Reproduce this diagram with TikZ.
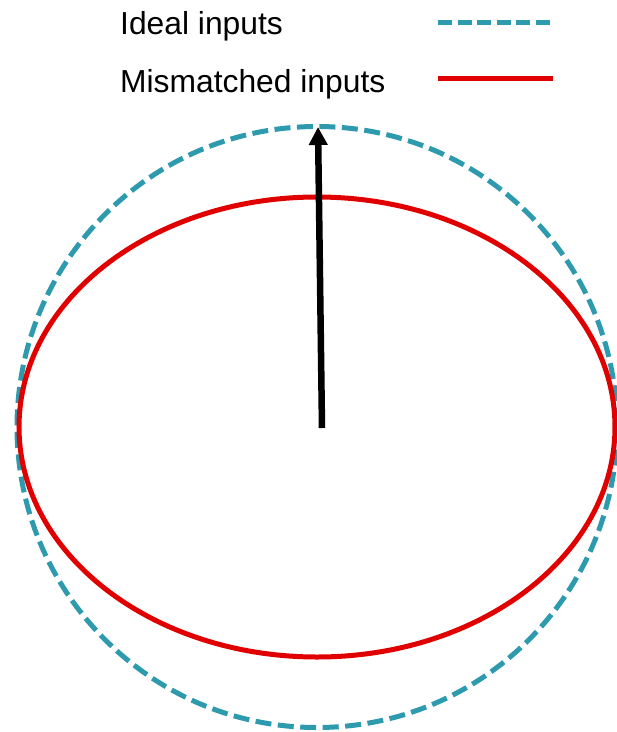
\documentclass[tikz,border=0pt]{standalone}
\usepackage{fontspec}
\setmainfont{Liberation Sans}
\usetikzlibrary{arrows.meta}
\definecolor{idealc}{HTML}{2E9AAE}
\definecolor{mismc}{HTML}{E00000}
\tikzset{
  ideal/.style={draw=idealc, line width=5pt, dash pattern=on 16pt off 6.5pt},
  mism/.style={draw=mismc, line width=5pt},
  legtext/.style={anchor=base west, inner sep=0pt, font=\fontsize{31.8}{36}\selectfont},
  vec/.style={line width=6.5pt, -{Triangle[width=18pt,length=18pt]}}
}
\begin{document}
\begin{tikzpicture}[x=1pt,y=-1pt]
\useasboundingbox (0,0) rectangle (617,732);
% legend
\node[legtext] (lt1) at (120,34) {Ideal inputs};
\node[legtext] (lt2) at (120,92) {Mismatched inputs};
\coordinate (l1a) at (438,22.5);
\coordinate (l1b) at (552,22.5);
\coordinate (l2a) at (438,78);
\coordinate (l2b) at (553,78);
\draw[ideal, dash pattern=on 14pt off 5.5pt] (l1a) -- (l1b);
\draw[mism] (l2a) -- (l2b);
% curves
\coordinate (c) at (317,427);
\draw[ideal] (c) circle[x radius=300, y radius=300.5];
\draw[mism] (c) ellipse[x radius=298, y radius=230];
% vector
\coordinate (vs) at (322,428);
\coordinate (ve) at (318,127);
\draw[vec] (vs) -- (ve);
\end{tikzpicture}
\end{document}
